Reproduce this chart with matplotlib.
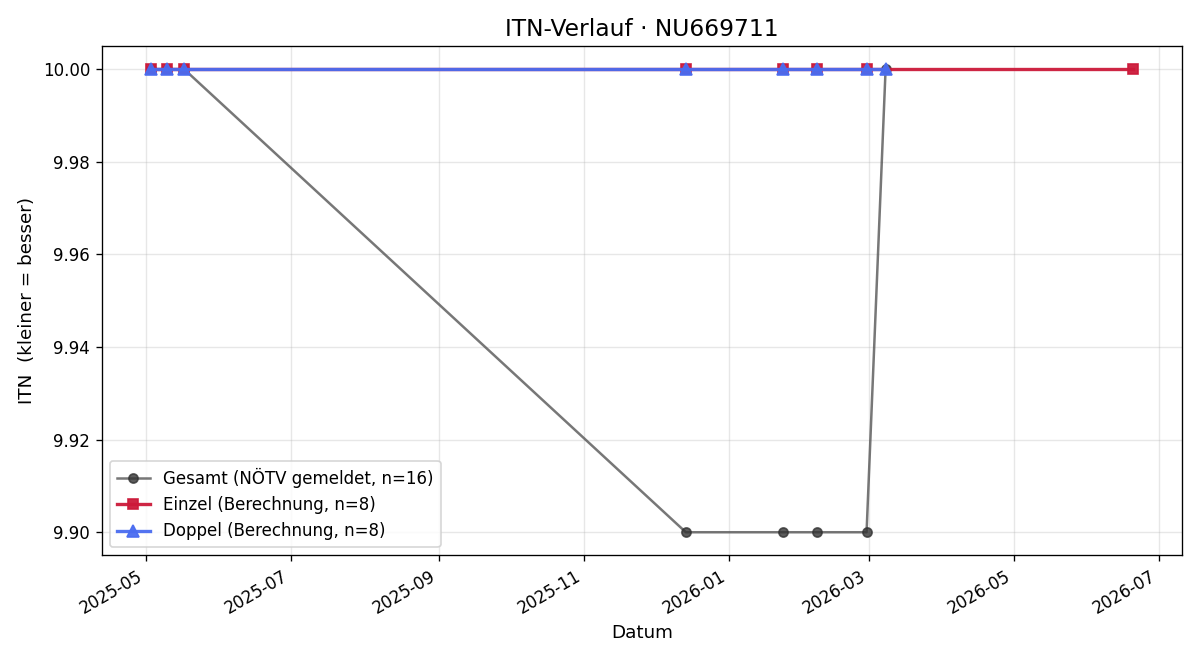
import matplotlib
matplotlib.use("Agg")
import matplotlib.pyplot as plt
import matplotlib.dates as mdates
import pandas as pd

gesamt_dates = ["2025-05-03", "2025-05-10", "2025-05-17", "2025-12-14",
                "2026-01-24", "2026-02-07", "2026-02-28", "2026-03-08"]
gesamt_itn = [10.0, 10.0, 10.0, 9.9, 9.9, 9.9, 9.9, 10.0]

einzel_dates = ["2025-05-03", "2025-05-10", "2025-05-17", "2025-12-14",
                "2026-01-24", "2026-02-07", "2026-02-28", "2026-06-20"]
einzel_itn = [10.0] * 8

doppel_dates = ["2025-05-03", "2025-05-10", "2025-05-17", "2025-12-14",
                "2026-01-24", "2026-02-07", "2026-02-28", "2026-03-08"]
doppel_itn = [10.0] * 8

fig, ax = plt.subplots(figsize=(10, 5.5), dpi=120)

ax.plot(pd.to_datetime(gesamt_dates), gesamt_itn, color='#555555', alpha=0.8, linewidth=1.5,
        marker='o', markersize=5.5, markerfacecolor='#333333', markeredgecolor='#333333',
        label='Gesamt (NÖTV gemeldet, n=16)')
ax.plot(pd.to_datetime(einzel_dates), einzel_itn, color='#cc1a3a', linewidth=2,
        marker='s', markersize=6.5, alpha=0.95, label='Einzel (Berechnung, n=8)')
ax.plot(pd.to_datetime(doppel_dates), doppel_itn, color='#4a6cf0', linewidth=2,
        marker='^', markersize=7, alpha=0.95, label='Doppel (Berechnung, n=8)')

ax.set_title('ITN-Verlauf · NU669711', fontsize=14)
ax.set_xlabel('Datum', fontsize=11)
ax.set_ylabel('ITN  (kleiner = besser)', fontsize=11)
ax.yaxis.set_major_formatter(matplotlib.ticker.FormatStrFormatter('%.2f'))
ax.xaxis.set_major_locator(mdates.MonthLocator(bymonth=[1, 3, 5, 7, 9, 11]))
ax.xaxis.set_major_formatter(mdates.DateFormatter('%Y-%m'))
ax.tick_params(labelsize=10)
ax.grid(True, alpha=0.3)
ax.legend(loc='lower left', fontsize=10)
fig.autofmt_xdate()
fig.tight_layout()
fig.savefig('out.png')
